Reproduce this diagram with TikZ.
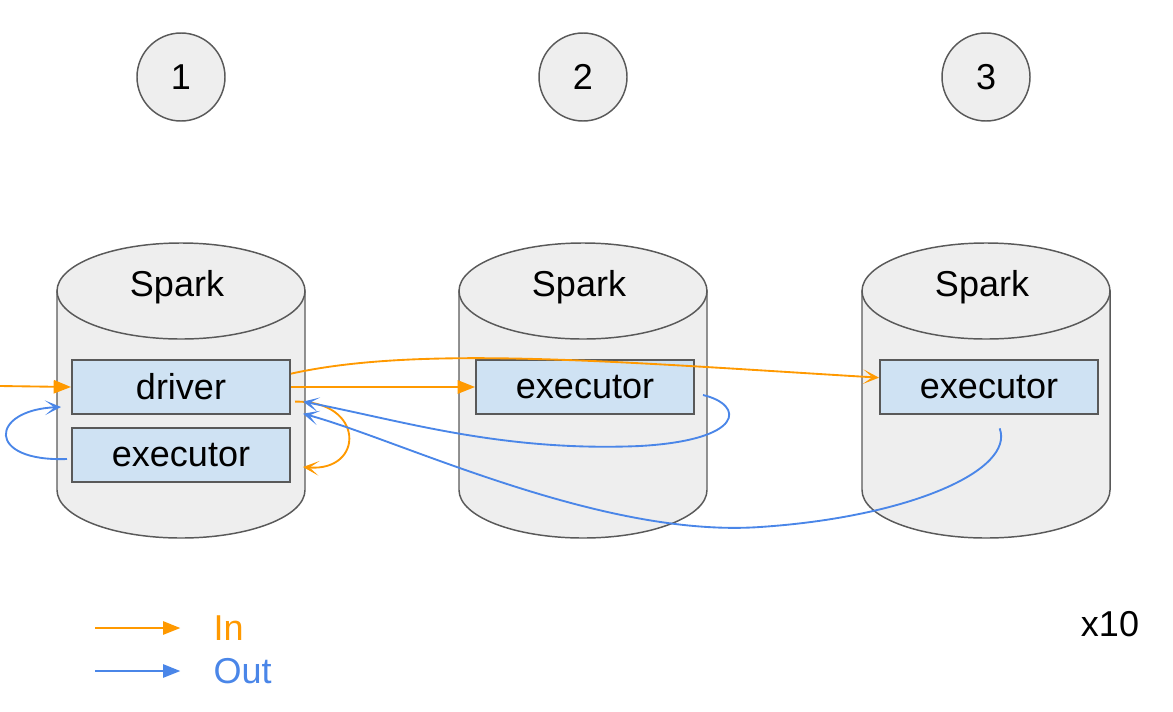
\documentclass[tikz,border=0pt]{standalone}
\usepackage{fontspec}
\setmainfont{Liberation Sans}
\usetikzlibrary{arrows.meta}
\definecolor{inorange}{HTML}{FF9900}
\definecolor{outblue}{HTML}{4A86E8}
\definecolor{boxblue}{HTML}{CFE2F3}
\definecolor{dbgray}{HTML}{EEEEEE}
\definecolor{edgegray}{HTML}{595959}

\begin{document}
\begin{tikzpicture}[x=0.75pt, y=-0.75pt,
    every node/.style={font=\fontsize{27}{32}\selectfont},
    db/.style={fill=dbgray, draw=edgegray, line width=1.1pt},
    cell/.style={fill=boxblue, draw=edgegray, line width=1.5pt, minimum width=163.5pt, minimum height=40.5pt, inner sep=0pt},
    hostnum/.style={circle, fill=dbgray, draw=edgegray, line width=1.1pt, minimum size=66pt, inner sep=0pt},
    inarrow/.style={inorange, line width=1.4pt},
    outarrow/.style={outblue, line width=1.4pt},
    fat/.style={-{Triangle[length=13pt,width=10pt]}},
    barb/.style={-{Stealth[length=12pt,width=11pt,inset=7pt]}}]
    \useasboundingbox (0,0) rectangle (1173,711);

    \foreach \x/\n in {57/1, 459/2, 862/3} {
        \filldraw[db] (\x,291) -- (\x,490) arc[start angle=180, end angle=0, x radius=124, y radius=48] -- (\x+248,291) -- cycle;
        \filldraw[db] (\x+124,291) ellipse [x radius=124, y radius=48];
        \node (spark\n) at (\x+120,287) {Spark};
        \node[hostnum] (host\n) at (\x+124,77) {\n};
    }

    \node[cell] (driver) at (181,387) {driver};
    \node[cell] (execA) at (181,455) {executor};
    \node[cell] (execB) at (585,387) {executor};
    \node[cell] (execC) at (989,387) {executor};

    % in
    \coordinate (feed) at (0,386);
    \draw[inarrow, fat] (feed) -- (driver.west);
    \draw[inarrow, fat] (driver.east) -- (execB.west);
    \draw[inarrow, barb] ([yshift=10pt]driver.east) .. controls (420,345) and (620,362) .. ([yshift=7pt]execC.west);
    \draw[inarrow, barb] ([shift={(3pt,-11pt)}]driver.east) .. controls (365,400) and (365,472) .. ([shift={(9pt,-9pt)}]execA.east);

    % out
    \draw[outarrow, barb] ([shift={(-3pt,-3pt)}]execA.west) .. controls (-15,462) and (-10,410) .. ([shift={(-7.5pt,-15pt)}]driver.west);
    \draw[outarrow, barb] ([shift={(6pt,-6pt)}]execB.east) .. controls (745,405) and (745,440) .. (640,446)
        .. controls (500,452) and (400,420) .. ([shift={(9pt,-11pt)}]driver.east);
    \draw[outarrow, barb] ([shift={(8pt,-10pt)}]execC.south) .. controls (1015,470) and (910,517) .. (760,527)
        .. controls (600,538) and (400,440) .. ([shift={(9pt,-20pt)}]driver.east);

    % legend
    \node[anchor=west, text=inorange] (legIn) at (209,628) {In};
    \node[anchor=west, text=outblue] (legOut) at (209,671) {Out};
    \coordinate (keyIn) at (95,628);
    \coordinate (keyOut) at (95,671);
    \draw[inarrow, fat] (keyIn) -- ([xshift=-21.5pt]legIn.west);
    \draw[outarrow, fat] (keyOut) -- ([xshift=-21.5pt]legOut.west);

    \node (times) at (1110,624) {x10};
\end{tikzpicture}
\end{document}
